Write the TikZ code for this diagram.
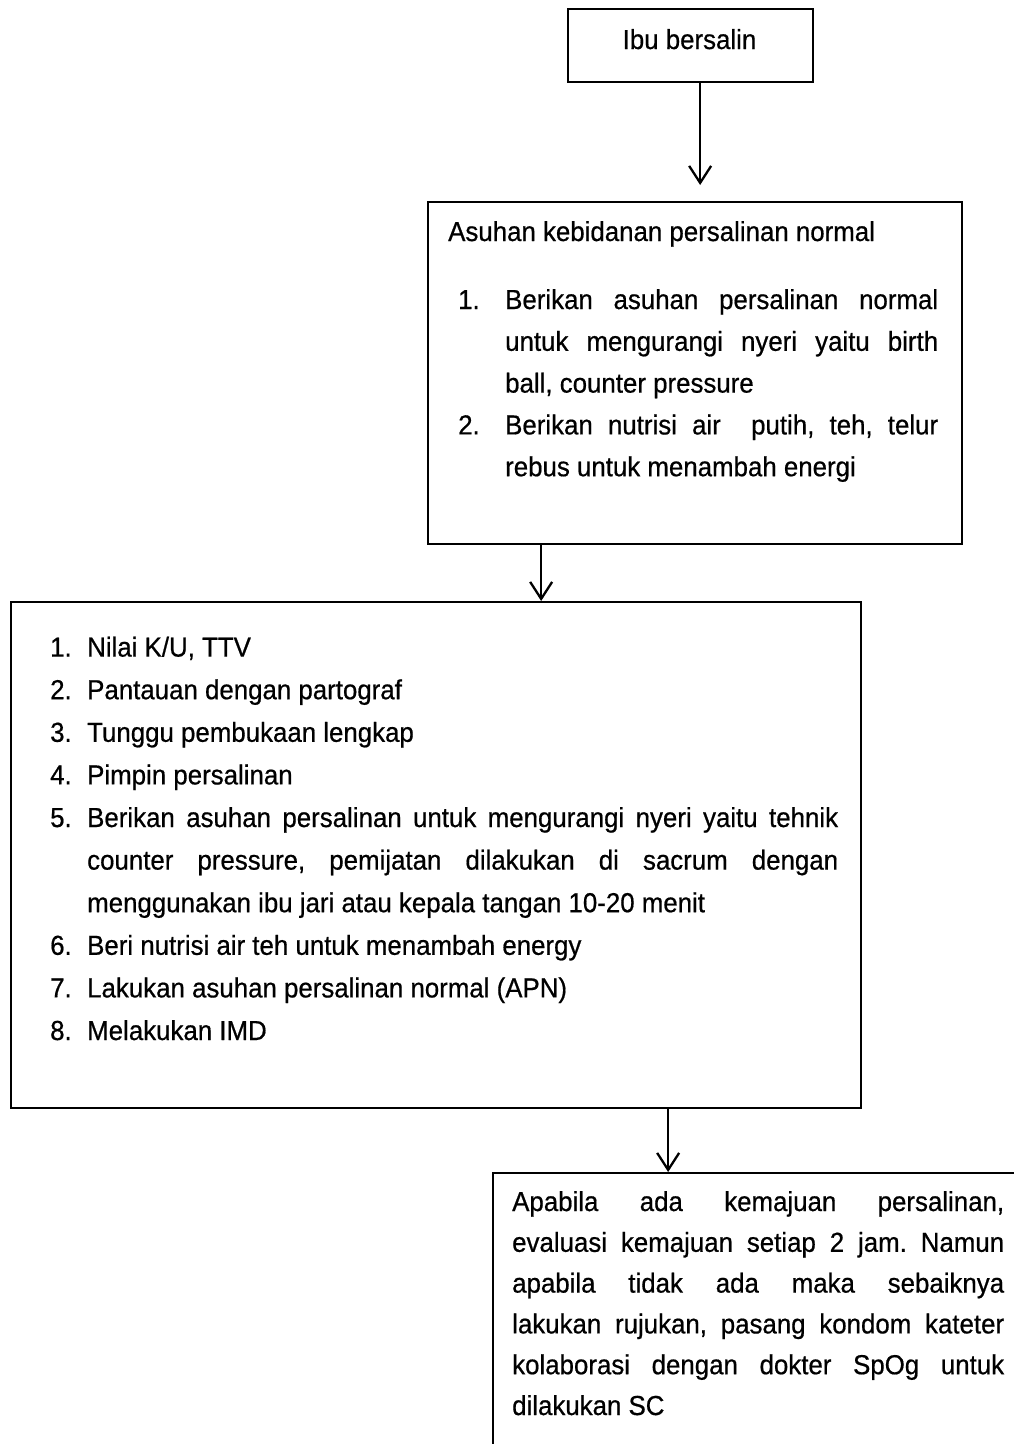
\documentclass[tikz,border=0pt]{standalone}
\usepackage{fontspec}
\setmainfont{Liberation Sans}[FakeStretch=0.94,FakeBold=0.6]
\usetikzlibrary{arrows.meta}
\frenchspacing
\newcommand{\jst}[2]{\makebox[#1][s]{#2}}
\newcommand{\rowl}[3]{\noindent\makebox[#1][l]{#2}#3\par}
\begin{document}
\begin{tikzpicture}[x=1pt,y=-1pt,
  box/.style={draw, line width=2.3pt, inner sep=0pt, anchor=north west},
  txt/.style={inner sep=0pt, anchor=base west, font=\fontsize{27.5pt}{41.8pt}\selectfont},
  arr/.style={line width=2.3pt, -{Straight Barb[length=17pt,width=22pt,line width=2.3pt]}}]
\useasboundingbox (0,0) rectangle (1014,1444);
\fill[white] (0,0) rectangle (1014,1444);
\clip (0,0) rectangle (1014,1444);
% boxes
\node[box, minimum width=245pt, minimum height=73pt] (b1) at (567,8) {};
\node[box, minimum width=534pt, minimum height=342pt] (b2) at (427,201) {};
\node[box, minimum width=850pt, minimum height=506pt] (b3) at (10,601) {};
\node[box, minimum width=548pt, minimum height=300pt] (b4) at (492,1172) {};
% texts
\node[txt, anchor=base] (t1) at (689.5,49) {Ibu bersalin};
\node[txt] (t2h) at (448,241) {Asuhan kebidanan persalinan normal};
\node[txt] (t2) at (458,309) {\begin{minipage}[t]{500pt}\fontsize{27.5pt}{41.8pt}\selectfont
\rowl{47pt}{1.}{\jst{433pt}{Berikan asuhan persalinan normal}}
\rowl{47pt}{}{\jst{433pt}{untuk mengurangi nyeri yaitu birth}}
\rowl{47pt}{}{ball, counter pressure}
\rowl{47pt}{2.}{\jst{433pt}{Berikan nutrisi air\ \ putih, teh, telur}}
\rowl{47pt}{}{rebus untuk menambah energi}
\end{minipage}};
\node[txt] (t3) at (50,656.6) {\begin{minipage}[t]{820pt}\fontsize{27.5pt}{42.6pt}\selectfont
\rowl{37pt}{1.}{Nilai K/U, TTV}
\rowl{37pt}{2.}{Pantauan dengan partograf}
\rowl{37pt}{3.}{Tunggu pembukaan lengkap}
\rowl{37pt}{4.}{Pimpin persalinan}
\rowl{37pt}{5.}{\jst{751pt}{Berikan asuhan persalinan untuk mengurangi nyeri yaitu tehnik}}
\rowl{37pt}{}{\jst{751pt}{counter pressure, pemijatan dilakukan di sacrum dengan}}
\rowl{37pt}{}{menggunakan ibu jari atau kepala tangan 10-20 menit}
\rowl{37pt}{6.}{Beri nutrisi air teh untuk menambah energy}
\rowl{37pt}{7.}{Lakukan asuhan persalinan normal (APN)}
\rowl{37pt}{8.}{Melakukan IMD}
\end{minipage}};
\node[txt] (t4) at (512,1211) {\begin{minipage}[t]{500pt}\fontsize{27.5pt}{40.8pt}\selectfont
\noindent\jst{492pt}{Apabila ada kemajuan persalinan,}\par
\noindent\jst{492pt}{evaluasi kemajuan setiap 2 jam. Namun}\par
\noindent\jst{492pt}{apabila tidak ada maka sebaiknya}\par
\noindent\jst{492pt}{lakukan rujukan, pasang kondom kateter}\par
\noindent\jst{492pt}{kolaborasi dengan dokter SpOg untuk}\par
\noindent dilakukan SC\par
\end{minipage}};
% connectors
\draw[arr] ([xshift=9.5pt]b1.south) -- ([xshift=5pt,yshift=16pt]b2.north);
\draw[arr] ([xshift=-154pt]b2.south) -- ([xshift=105pt]b3.north);
\draw[arr] ([xshift=232pt]b3.south) -- ([xshift=-99pt]b4.north);
\end{tikzpicture}
\end{document}
